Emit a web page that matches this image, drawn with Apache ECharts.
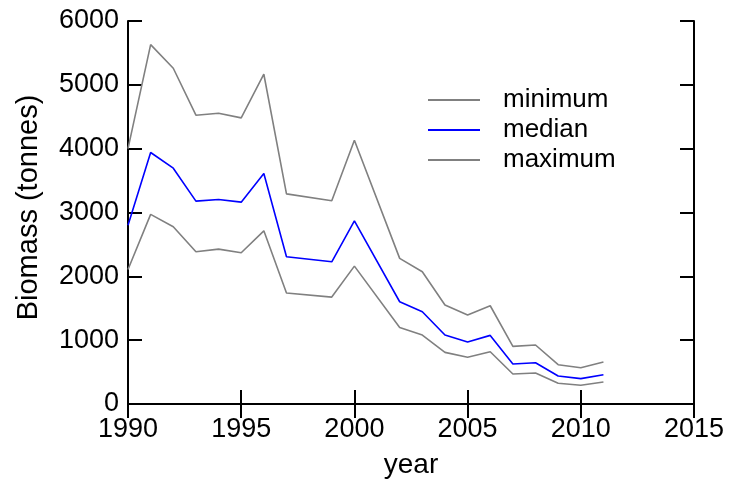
<!DOCTYPE html>
<html>
<head>
<meta charset="utf-8">
<script src="https://cdn.jsdelivr.net/npm/echarts@6/dist/echarts.min.js"></script>
<style>html,body{margin:0;padding:0;background:#fff}#c{width:729px;height:479px}</style>
</head>
<body>
<div id="c"></div>
<script>
var years = [1990,1991,1992,1993,1994,1995,1996,1997,1999,2000,2002,2003,2004,2005,2006,2007,2008,2009,2010,2011];
var upperGray = [4000,5630,5260,4524,4555,4482,5166,3292,3183,4133,2281,2071,1550,1393,1539,903,924,616,569,657];
var medianBlue = [2802,3940,3694,3178,3204,3162,3611,2306,2228,2870,1602,1445,1080,971,1075,626,647,438,397,459];
var lowerGray = [2108,2970,2776,2384,2426,2369,2713,1738,1675,2160,1200,1080,809,731,819,470,485,324,293,344];
var legendNames = ['minimum','median','maximum'];
var xTicks = [1990,1995,2000,2005,2010,2015];
var yTicks = [0,1000,2000,3000,4000,5000,6000];

function pairs(v){ return years.map(function(y,i){ return [y, v[i]]; }); }
function plain(v){ return String(v); }
var font = 'Liberation Sans, Arial, sans-serif';
var axisLine = {show:true, lineStyle:{color:'#000', width:2}};
var axisTick = {show:true, inside:true, length:14, lineStyle:{color:'#000', width:2}};

var chart = echarts.init(document.getElementById('c'), null, {renderer:'canvas'});
chart.setOption({
  animation:false,
  backgroundColor:'#fff',
  grid:{left:128, right:35, top:21, bottom:75, containLabel:false, outerBoundsMode:'none'},
  legend:{
    data:legendNames, orient:'vertical', left:428, top:87, padding:0,
    itemWidth:52, itemHeight:2, itemGap:4, icon:'rect',
    textStyle:{fontFamily:font, fontSize:26, color:'#000', padding:[0,0,0,18]}
  },
  xAxis:[{
    type:'value', min:xTicks[0], max:xTicks[xTicks.length-1], interval:5,
    axisLine:axisLine, axisTick:axisTick, splitLine:{show:false},
    axisLabel:{fontFamily:font, fontSize:27, color:'#000', margin:12, formatter:plain},
    name:'year', nameLocation:'middle', nameGap:47,
    nameTextStyle:{fontFamily:font, fontSize:28, color:'#000'}
  },{
    type:'value', position:'top', min:xTicks[0], max:xTicks[xTicks.length-1], interval:5,
    axisLine:axisLine, axisTick:axisTick, axisLabel:{show:false}, splitLine:{show:false}
  }],
  yAxis:[{
    type:'value', min:yTicks[0], max:yTicks[yTicks.length-1], interval:1000,
    axisLine:axisLine, axisTick:axisTick, splitLine:{show:false},
    axisLabel:{fontFamily:font, fontSize:27, color:'#000', margin:9, formatter:plain},
    name:'Biomass (tonnes)', nameLocation:'middle', nameGap:85,
    nameTextStyle:{fontFamily:font, fontSize:29, color:'#000', padding:[0,0,0,10]}
  },{
    type:'value', position:'right', min:yTicks[0], max:yTicks[yTicks.length-1], interval:1000,
    axisLine:axisLine, axisTick:axisTick, axisLabel:{show:false}, splitLine:{show:false}
  }],
  series:[
    {name:'minimum', type:'line', data:pairs(lowerGray), showSymbol:false, symbol:'none',
     lineStyle:{color:'#808080', width:1.6}, itemStyle:{color:'#808080'}},
    {name:'median', type:'line', data:pairs(medianBlue), showSymbol:false, symbol:'none',
     lineStyle:{color:'#0000ff', width:1.6}, itemStyle:{color:'#0000ff'}},
    {name:'maximum', type:'line', data:pairs(upperGray), showSymbol:false, symbol:'none',
     lineStyle:{color:'#808080', width:1.6}, itemStyle:{color:'#808080'}}
  ]
});
</script>
</body>
</html>
